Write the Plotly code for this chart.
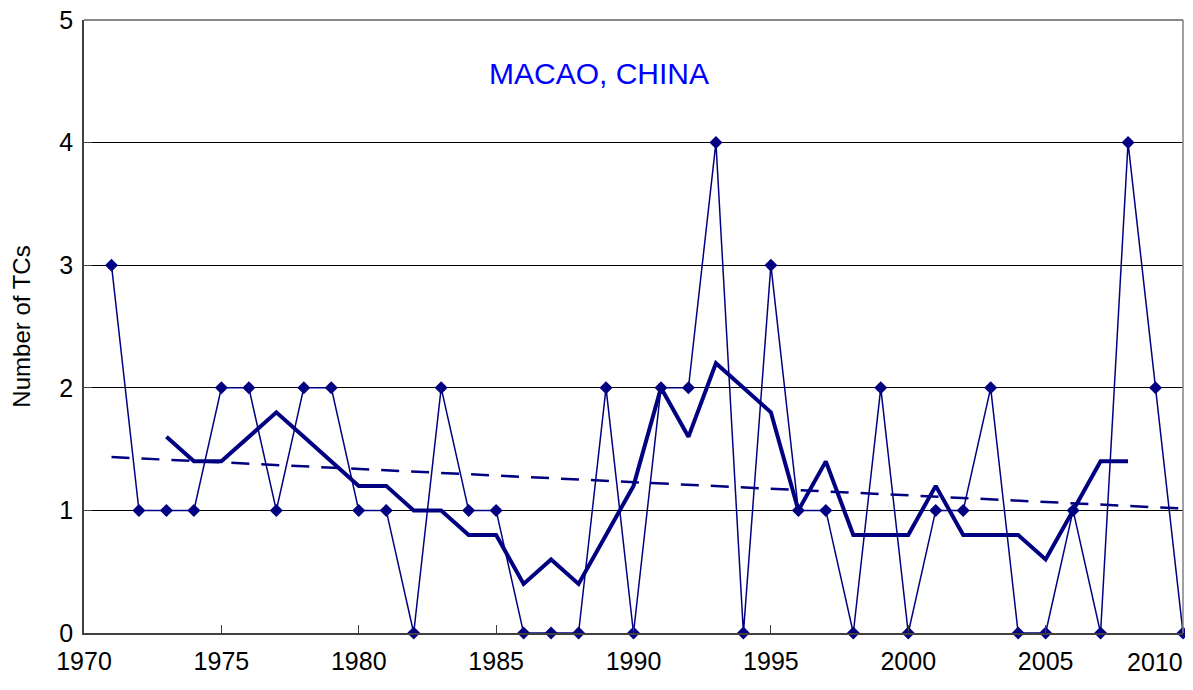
import plotly.graph_objects as go

years = list(range(1971, 2011))
tcs = [3, 1, 1, 1, 2, 2, 1, 2, 2, 1,
       1, 0, 2, 1, 1, 0, 0, 0, 2, 0,
       2, 2, 4, 0, 3, 1, 1, 0, 2, 0,
       1, 1, 2, 0, 0, 1, 0, 4, 2, 0]

# 5-year running mean, 1973-2008
ma_years = list(range(1973, 2009))
ma_vals = [1.6, 1.4, 1.4, 1.6, 1.8, 1.6, 1.4, 1.2, 1.2, 1.0,
           1.0, 0.8, 0.8, 0.4, 0.6, 0.4, 0.8, 1.2, 2.0, 1.6,
           2.2, 2.0, 1.8, 1.0, 1.4, 0.8, 0.8, 0.8, 1.2, 0.8,
           0.8, 0.8, 0.6, 1.0, 1.4, 1.4]

# linear trend endpoints
trend_years = [1971, 2010]
trend_vals = [1.435, 1.015]

x_ticks = [1970, 1975, 1980, 1985, 1990, 1995, 2000, 2005, 2010]
x_labels = ["1970", "1975", "1980", "1985", "1990", "1995", "2000", "2005", ""]

navy = "#000080"

fig = go.Figure()
fig.add_trace(go.Scatter(x=years, y=tcs, mode="lines+markers",
                         line=dict(color=navy, width=1.5),
                         marker=dict(symbol="diamond", size=10, color=navy),
                         cliponaxis=False))
fig.add_trace(go.Scatter(x=ma_years, y=ma_vals, mode="lines",
                         line=dict(color=navy, width=4)))
fig.add_trace(go.Scatter(x=trend_years, y=trend_vals, mode="lines",
                         line=dict(color=navy, width=2.5, dash="18px,12px")))

# page body adds an 8px margin, so margins are trimmed to compensate
fig.update_layout(
    width=1185, height=682,
    margin=dict(l=76, r=10, t=12, b=57),
    paper_bgcolor="white", plot_bgcolor="white",
    showlegend=False,
    font=dict(family="Liberation Sans, Arial", color="black"),
    annotations=[
        dict(text="MACAO, CHINA", x=0.469, y=0.913, yanchor="middle",
             xref="paper", yref="paper", showarrow=False,
             font=dict(size=30, color="#0000FF")),
        # last x label kept inside the page, like the original
        dict(text="2010", x=1.002, xanchor="right", y=0, yanchor="middle",
             yshift=-29, xref="paper", yref="paper", showarrow=False,
             font=dict(size=25)),
    ],
)
fig.update_xaxes(range=[1970, 2010], tickvals=x_ticks, ticktext=x_labels,
                 showgrid=False, zeroline=False, automargin=False,
                 showline=True, linecolor="#404040", linewidth=1.5,
                 ticks="inside", ticklen=8, tickcolor="#404040",
                 ticklabelstandoff=5, ticklabeloverflow="allow",
                 tickfont=dict(size=25))
fig.update_yaxes(range=[0, 5], dtick=1,
                 showgrid=True, gridcolor="black", gridwidth=1,
                 zeroline=False, automargin=False,
                 showline=True, linecolor="#404040", linewidth=1.5,
                 ticks="inside", ticklen=8, tickcolor="#404040",
                 ticklabelstandoff=4, ticklabeloverflow="allow",
                 tickfont=dict(size=25),
                 title=dict(text="Number of TCs", font=dict(size=24), standoff=22))
# right and top border in gray
fig.add_shape(type="line", xref="paper", yref="paper", x0=1, x1=1, y0=0, y1=1,
              line=dict(color="#808080", width=1.5))
fig.add_shape(type="line", xref="paper", yref="paper", x0=0, x1=1, y0=1, y1=1,
              line=dict(color="#606060", width=1.5))

fig.write_html("out.html")
